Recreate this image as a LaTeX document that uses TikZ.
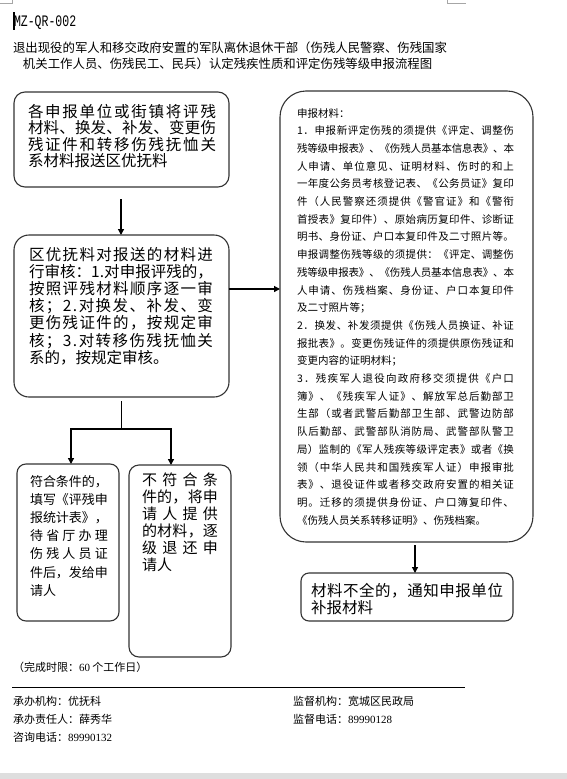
\documentclass[tikz,border=0pt]{standalone}
\usepackage{fontspec}
\setmainfont{Noto Sans CJK SC}
\newfontfamily\tms{Liberation Serif}
\newfontfamily\monoz[FakeStretch=0.72]{Liberation Mono}
\usetikzlibrary{arrows.meta}
\def\spend{\spend}
\def\sprA#1#2{#1\ifx\spend#2\expandafter\sprEnd\else\expandafter\sprB\fi{#2}}
\def\sprEnd#1{}
\def\sprB#1{\hskip 0pt plus 1fil minus .35pt\relax\sprA#1}
\newcommand\spr[1]{\sprA#1\spend}
\newcommand\J[1]{\leavevmode\hbox to \linewidth{\spr{#1}}}
\tikzset{
  box/.style={draw=black!80, line width=1.1pt, rectangle, inner sep=0pt, outer sep=0pt, anchor=north west},
  arr/.style={-{Triangle[length=6pt,width=6pt]}, line width=1.3pt, black},
  ln/.style={line width=1.3pt, black},
  txt/.style={anchor=base west, inner sep=0pt, outer sep=0pt, align=left},
  plain/.style={anchor=base west, inner sep=0pt, outer sep=0pt},
}
\begin{document}
\begin{tikzpicture}[x=1pt,y=-1pt]
\fill[white] (0,0) rectangle (567,779);
\useasboundingbox (0,0) rectangle (567,779);
% page marks and bottom band
\draw[black!35, line width=0.6pt] (12.5,0) -- (12.5,3) -- (0,3);
\draw[black!35, line width=0.6pt] (447,0) -- (447,3) -- (466,3);
\fill[black!13] (0,773) rectangle (567,779);
% header
\draw[black, line width=1.4pt] (14,12) -- (14,30);
\node[plain, font=\monoz\fontsize{16}{16}\selectfont] (code) at (14,26) {MZ-QR-002};
\node[plain, font=\fontsize{12.4}{14}\selectfont] (t1) at (13,52.7) {退出现役的军人和移交政府安置的军队离休退休干部（伤残人民警察、伤残国家};
\node[plain, font=\fontsize{12.4}{14}\selectfont] (t2) at (23,68.7) {机关工作人员、伤残民工、民兵）认定残疾性质和评定伤残等级申报流程图};
% boxes
\node[box, rounded corners=11, minimum width=215, minimum height=95] (b1) at (14,92) {};
\node[box, rounded corners=15, minimum width=215, minimum height=162] (b2) at (14,235) {};
\node[box, rounded corners=26, minimum width=253, minimum height=451] (big) at (280,91) {};
\node[box, rounded corners=9, minimum width=102, minimum height=157] (lb) at (17,464) {};
\node[box, rounded corners=10, minimum width=102, minimum height=192] (mb) at (129,465) {};
\node[box, rounded corners=8, minimum width=212, minimum height=48] (nb) at (301,573) {};
% box texts
\node[txt, text width=188, font=\fontsize{15.5}{16.5}\selectfont] (b1t) at (28,117) {\J{各申报单位或街镇将评残}\\
\J{材料、换发、补发、变更伤}\\
\J{残证件和转移伤残抚恤关}\\
系材料报送区优抚料};
\node[txt, text width=184, font=\fontsize{15.5}{17.2}\selectfont] (b2t) at (29,260) {\J{区优抚料对报送的材料进}\\
\J{行审核：1.对申报评残的，}\\
\J{按照评残材料顺序逐一审}\\
\J{核；2.对换发、补发、变}\\
\J{更伤残证件的，按规定审}\\
\J{核；3.对转移伤残抚恤关}\\
系的，按规定审核。};
\node[txt, text width=217, font=\fontsize{10.5}{17.7}\selectfont] (bigt) at (297,117) {申报材料：\\
\J{1．申报新评定伤残的须提供《评定、调整伤}\\
\J{残等级申报表》、《伤残人员基本信息表》、本}\\
\J{人申请、单位意见、证明材料、伤时的和上}\\
\J{一年度公务员考核登记表、《公务员证》复印}\\
\J{件（人民警察还须提供《警官证》和《警衔}\\
\J{首授表》复印件）、原始病历复印件、诊断证}\\
\J{明书、身份证、户口本复印件及二寸照片等。}\\
\J{申报调整伤残等级的须提供：《评定、调整伤}\\
\J{残等级申报表》、《伤残人员基本信息表》、本}\\
\J{人申请、伤残档案、身份证、户口本复印件}\\
及二寸照片等；\\
\J{2．换发、补发须提供《伤残人员换证、补证}\\
\J{报批表》。变更伤残证件的须提供原伤残证和}\\
变更内容的证明材料；\\
\J{3．残疾军人退役向政府移交须提供《户口}\\
\J{簿》、《残疾军人证》、解放军总后勤部卫}\\
\J{生部（或者武警后勤部卫生部、武警边防部}\\
\J{队后勤部、武警部队消防局、武警部队警卫}\\
\J{局）监制的《军人残疾等级评定表》或者《换}\\
\J{领（中华人民共和国残疾军人证）申报审批}\\
\J{表》、退役证件或者移交政府安置的相关证}\\
\J{明。迁移的须提供身份证、户口簿复印件、}\\
《伤残人员关系转移证明》、伤残档案。};
\node[txt, text width=78, font=\fontsize{13}{18.2}\selectfont] (lbt) at (30,486) {\J{符合条件的，}\\
\J{填写《评残申}\\
\J{报统计表》，}\\
\J{待省厅办理}\\
\J{伤残人员证}\\
\J{件后，发给申}\\
请人};
\node[txt, text width=76, font=\fontsize{15}{17}\selectfont] (mbt) at (142,485.7) {\J{不符合条}\\
\J{件的，将申}\\
\J{请人提供}\\
\J{的材料，逐}\\
\J{级退还申}\\
请人};
\node[txt, text width=192, font=\fontsize{15.5}{17}\selectfont] (nbt) at (311,596) {\J{材料不全的，通知申报单位}\\
补报材料};
% connectors
\coordinate (c1) at (121,199);
\draw[arr] (c1) -- (c1 |- b2.north);
\coordinate (c2) at (229,289);
\draw[arr] (c2) -- (c2 -| big.west);
\coordinate (c3) at (121.5,401);
\coordinate (br) at (121.5,429);
\coordinate (bl) at (71,429);
\coordinate (bm) at (171,429);
\draw[ln] (c3) -- (br);
\draw[ln] ([xshift=-0.65pt]bl) -- ([xshift=0.65pt]bm);
\draw[arr] (bl) -- (bl |- lb.north);
\draw[arr] (bm) -- (bm |- mb.north);
\coordinate (c4) at (415,545);
\draw[arr] (c4) -- (c4 |- nb.north);
% footer
\node[plain, font=\fontsize{11}{13}\selectfont] (lim) at (13,671) {（完成时限：{\tms 60} 个工作日）};
\coordinate (h1) at (12,687);
\coordinate (h2) at (465,687);
\draw[black, line width=1pt] (h1) -- (h2);
\node[plain, font=\fontsize{11}{13}\selectfont] (f1) at (13,705) {承办机构：优抚科};
\node[plain, font=\fontsize{11}{13}\selectfont] (f2) at (13,723) {承办责任人：薛秀华};
\node[plain, font=\fontsize{11}{13}\selectfont] (f3) at (13,741) {咨询电话：{\tms 89990132}};
\node[plain, font=\fontsize{11}{13}\selectfont] (f4) at (293,705) {监督机构：宽城区民政局};
\node[plain, font=\fontsize{11}{13}\selectfont] (f5) at (293,723) {监督电话：{\tms 89990128}};
\end{tikzpicture}
\end{document}
